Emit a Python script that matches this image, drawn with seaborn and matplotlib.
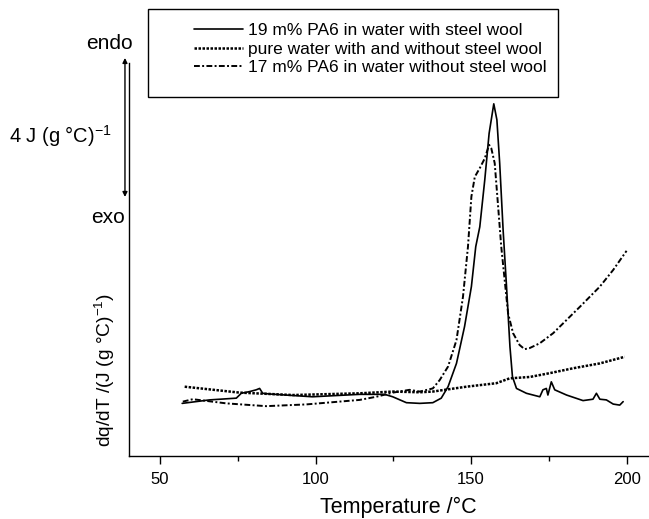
import numpy as np
import pandas as pd
import matplotlib
matplotlib.use("Agg")
import matplotlib.pyplot as plt
from matplotlib.patches import Rectangle
import seaborn as sns

# DSC curves, temperature in °C, dq/dT in J (g °C)^-1 (offset)
t_pa6_steel = [57.1, 65.9, 74.5, 76.1, 78.8, 80.9, 82.0, 83.0, 85.2, 99.0, 114.2, 122.2,
               124.8, 129.2, 133.5, 137.7, 140.4, 142.6, 145.3, 147.9, 150.1, 151.5,
               152.8, 154.4, 155.8, 157.3, 158.3, 159.2, 160.3, 161.4, 162.5, 163.3,
               164.6, 167.8, 172.1, 173.1, 174.2, 174.7, 175.8, 176.9, 180.7, 186.0,
               189.2, 190.3, 191.4, 193.5, 195.7, 197.8, 198.9]
q_pa6_steel = [1.50, 1.60, 1.65, 1.79, 1.84, 1.89, 1.93, 1.79, 1.77, 1.69, 1.76, 1.76,
               1.69, 1.52, 1.50, 1.52, 1.65, 1.98, 2.65, 3.71, 4.86, 6.01,
               6.58, 7.93, 9.27, 10.12, 9.66, 8.41, 6.49, 4.86, 3.13, 2.27,
               1.93, 1.79, 1.69, 1.89, 1.93, 1.74, 2.12, 1.89, 1.74, 1.58,
               1.62, 1.79, 1.62, 1.60, 1.48, 1.45, 1.55]

t_water = [57.9, 75.5, 92.7, 114.2, 124.9, 133.5, 137.7, 148.5, 158.1, 162.4,
           168.9, 175.3, 182.8, 191.4, 199.4]
q_water = [1.98, 1.81, 1.74, 1.79, 1.84, 1.82, 1.84, 1.98, 2.08, 2.22,
           2.26, 2.37, 2.51, 2.65, 2.84]

t_pa6_nosteel = [57.3, 60.5, 71.3, 84.1, 97.0, 114.2, 119.5, 124.9, 130.2, 133.5,
                 137.7, 139.9, 142.6, 145.3, 147.4, 149.0, 150.1, 151.2, 152.8,
                 154.4, 155.8, 156.5, 157.6, 158.7, 159.7, 160.8, 161.9, 163.5,
                 165.6, 167.2, 168.8, 172.1, 176.4, 180.7, 185.0, 191.4, 195.7, 200.0]
q_pa6_nosteel = [1.55, 1.62, 1.50, 1.42, 1.47, 1.60, 1.69, 1.81, 1.89, 1.84,
                 1.93, 2.17, 2.56, 3.32, 4.57, 6.01, 7.45, 8.02, 8.27,
                 8.55, 8.94, 8.84, 8.41, 7.16, 6.01, 5.05, 4.09, 3.52,
                 3.18, 3.06, 3.09, 3.23, 3.52, 3.90, 4.28, 4.86, 5.34, 5.89]

labels = ["19 m% PA6 in water with steel wool",
          "pure water with and without steel wool",
          "17 m% PA6 in water without steel wool"]

sns.set_style("ticks")
plt.rcParams['font.family'] = ['Liberation Sans', 'DejaVu Sans']
plt.rcParams['mathtext.fontset'] = 'custom'
plt.rcParams['mathtext.rm'] = 'Liberation Sans'
plt.rcParams['mathtext.it'] = 'Liberation Sans:italic'
plt.rcParams['text.color'] = 'black'
plt.rcParams['axes.labelcolor'] = 'black'
plt.rcParams['xtick.color'] = 'black'

fig = plt.figure(figsize=(6.49, 5.19), dpi=100)
ax = fig.add_axes([129 / 649, 1 - 455.5 / 519, 538 / 649, 392.5 / 519])

sns.lineplot(x=t_pa6_steel, y=q_pa6_steel, ax=ax, color='black', lw=1.2,
             sort=False, label=labels[0])
l2 = sns.lineplot(x=t_water, y=q_water, ax=ax, color='black', lw=1.8,
                  sort=False, label=labels[1]).lines[-1]
l2.set_dashes((1.0, 0.6))
l3 = sns.lineplot(x=t_pa6_nosteel, y=q_pa6_nosteel, ax=ax, color='black', lw=1.4,
                  sort=False, label=labels[2]).lines[-1]
l3.set_dashes((3.0, 1.2, 1.0, 1.2))

ax.set_xlim(40, 213)
ax.set_ylim(0, 392.5 / 34.75)
ax.set_xticks([50, 100, 150, 200])
ax.set_xticks([75, 125, 175], minor=True)
ax.set_yticks([])
ax.tick_params(axis='x', which='major', length=6, width=1, labelsize=12, pad=6)
ax.tick_params(axis='x', which='minor', length=3.5, width=1)
sns.despine(ax=ax)
for s in ['left', 'bottom']:
    ax.spines[s].set_color('black')
    ax.spines[s].set_linewidth(1.0)

ax.set_xlabel("Temperature /°C", fontsize=15.5, labelpad=7)
ax.set_ylabel("dq/dT /(J (g °C)$^{-1}$)", fontsize=13.8)
ax.yaxis.set_label_coords(-0.023, 0.218)

# scale arrow endo / exo
trans = ax.get_yaxis_transform()
ax.annotate('', xy=(-0.0075, 11.44), xytext=(-0.0075, 7.44), xycoords=trans,
            textcoords=trans, annotation_clip=False,
            arrowprops=dict(arrowstyle='<|-|>', color='black', lw=1.0,
                            mutation_scale=7, shrinkA=0, shrinkB=0))
ax.text(0.007, 11.86, 'endo', transform=trans, ha='right', va='center', fontsize=15, clip_on=False)
ax.text(-0.007, 6.86, 'exo', transform=trans, ha='right', va='center', fontsize=15, clip_on=False)
ax.text(-0.031, 9.19, '4 J (g °C)$^{-1}$', transform=trans, ha='right', va='center',
        fontsize=14.5, clip_on=False)

leg = ax.legend(loc='upper left', bbox_to_anchor=(194 / 649, 1 - 23 / 519),
                bbox_transform=fig.transFigure, fontsize=12.5, frameon=False,
                borderaxespad=0, borderpad=0, handlelength=2.85, handletextpad=0.25,
                labelspacing=0.2)

# legend box
fig.canvas.draw()
bb = leg.get_window_extent().transformed(fig.transFigure.inverted())
x0, y0, y1 = 147.7 / 649, 1 - 97.3 / 519, 1 - 9.3 / 519
x1 = bb.x1 + 12 / 649
fig.add_artist(Rectangle((x0, y0), x1 - x0, y1 - y0, transform=fig.transFigure,
                         fill=False, edgecolor='black', lw=1.0))

fig.savefig('out.png', dpi=100)
